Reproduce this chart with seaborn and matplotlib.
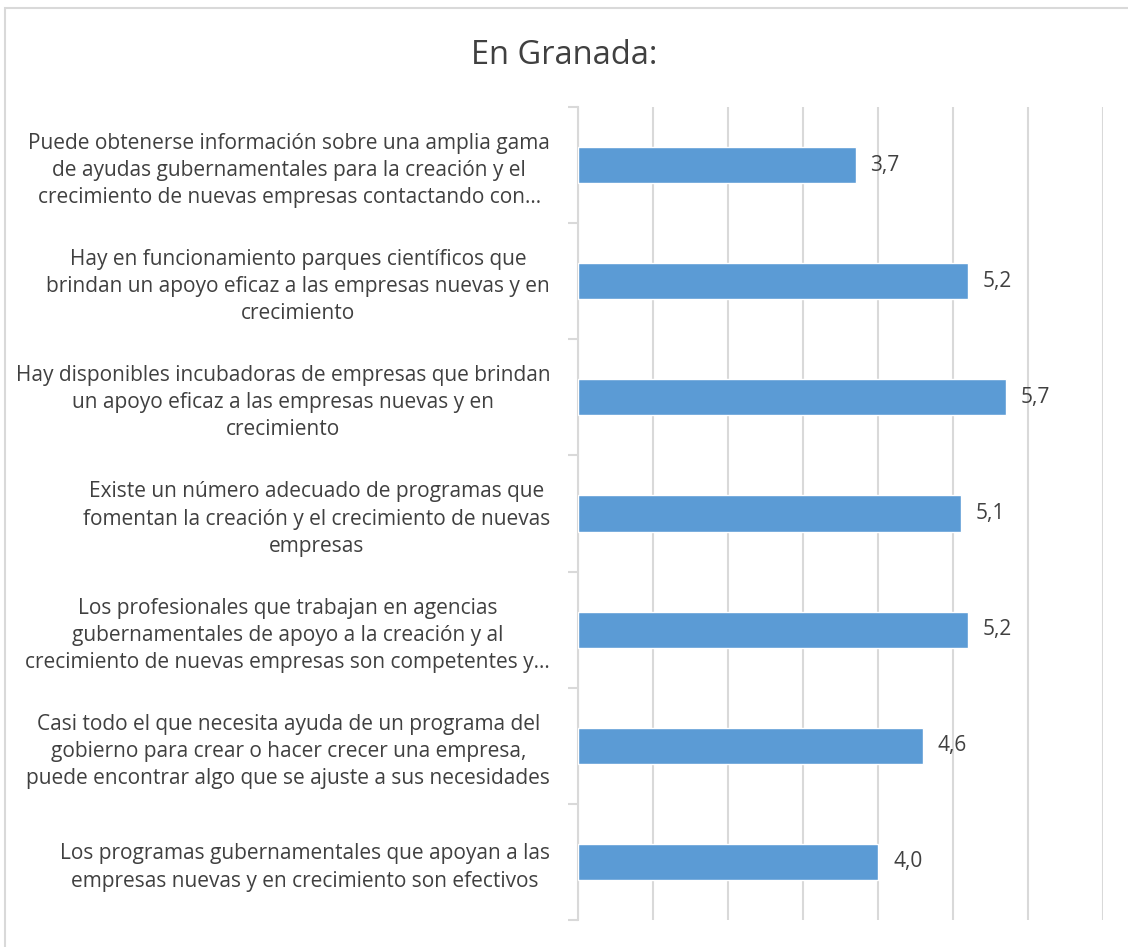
import matplotlib
matplotlib.use("Agg")
import matplotlib.pyplot as plt
import seaborn as sns
import pandas as pd
import numpy as np
from matplotlib.patches import Rectangle

categories = [
    "Puede obtenerse información sobre una amplia gama\nde ayudas gubernamentales para la creación y el\ncrecimiento de nuevas empresas contactando con…",
    "Hay en funcionamiento parques científicos que\nbrindan un apoyo eficaz a las empresas nuevas y en\ncrecimiento",
    "Hay disponibles incubadoras de empresas que brindan\nun apoyo eficaz a las empresas nuevas y en\ncrecimiento",
    "Existe un número adecuado de programas que\nfomentan la creación y el crecimiento de nuevas\nempresas",
    "Los profesionales que trabajan en agencias\ngubernamentales de apoyo a la creación y al\ncrecimiento de nuevas empresas son competentes y…",
    "Casi todo el que necesita ayuda de un programa del\ngobierno para crear o hacer crecer una empresa,\npuede encontrar algo que se ajuste a sus necesidades",
    "Los programas gubernamentales que apoyan a las\nempresas nuevas y en crecimiento son efectivos",
]
values = [3.7, 5.2, 5.7, 5.1, 5.2, 4.6, 4.0]
value_labels = ["3,7", "5,2", "5,7", "5,1", "5,2", "4,6", "4,0"]
title = "En Granada:"

sns.set_theme(style="white")
plt.rcParams["font.family"] = ["Open Sans", "DejaVu Sans"]

df = pd.DataFrame({"cat": categories, "val": values})

fig = plt.figure(figsize=(11.28, 9.47), dpi=100)
ax = fig.add_axes([578/1128, 1-920/947, (1103-578)/1128, (920-107)/947])

text_color = "#404040"
grid_color = "#D9D9D9"

sns.barplot(data=df, y="cat", x="val", color="#5B9BD5", saturation=1,
            width=0.31, ax=ax, zorder=3)

ax.set_xlim(0, 7)
ax.set_ylim(len(categories) - 0.5, -0.5)
ax.set_xticks(range(0, 8))
ax.set_xticklabels([])
ax.tick_params(axis="x", length=0)
ax.xaxis.grid(True, color=grid_color, linewidth=1.5, zorder=0)
ax.yaxis.grid(False)
ax.set_xlabel("")
ax.set_ylabel("")

# category labels
ax.set_yticks(range(len(categories)))
ax.set_yticklabels(categories, fontsize=15, color=text_color)
for lbl in ax.get_yticklabels():
    lbl.set_multialignment("center")
    lbl.set_linespacing(1.38)
ax.tick_params(axis="y", which="major", left=True, length=0, pad=20)

# boundary ticks on the left
ax.set_yticks(np.arange(-0.5, len(categories), 1.0), minor=True)
ax.tick_params(axis="y", which="minor", left=True, length=7, width=1.5,
               color=grid_color, direction="out")

for s in ["top", "right", "bottom"]:
    ax.spines[s].set_visible(False)
ax.spines["left"].set_color(grid_color)
ax.spines["left"].set_linewidth(1.5)

for i, (v, t) in enumerate(zip(values, value_labels)):
    ax.text(v + 0.2, i, t, va="center", ha="left", fontsize=15, color=text_color)

fig.text(0.5, 1 - 55/947, title, ha="center", va="center", fontsize=23.5, color=text_color)

fig.patches.append(Rectangle((5/1128, -0.05), 1.1, 1 - 8/947 + 0.05,
                             transform=fig.transFigure, fill=False,
                             edgecolor="#D9D9D9", linewidth=1.5))

fig.savefig("out.png", dpi=100, facecolor="white")
